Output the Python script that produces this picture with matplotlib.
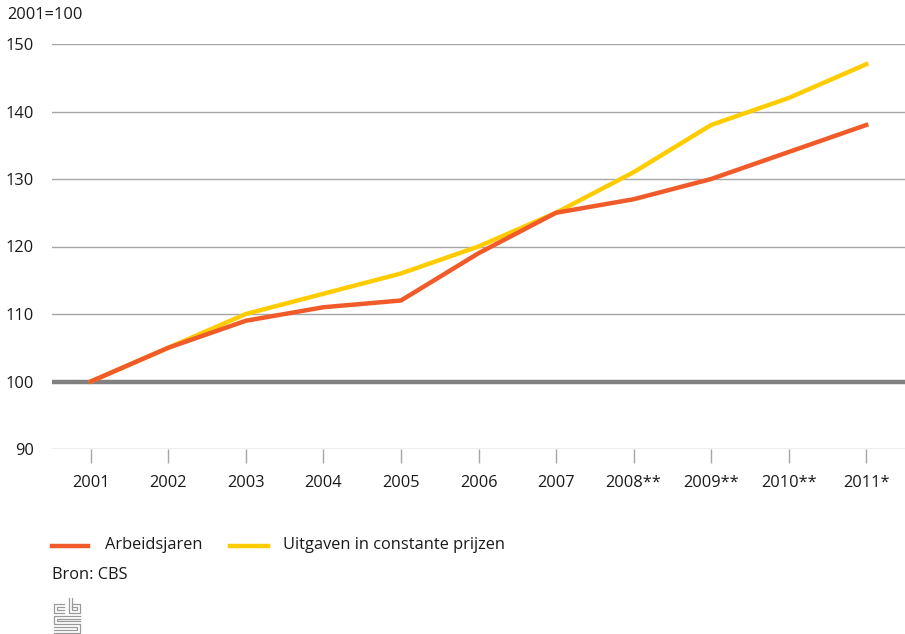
import matplotlib
matplotlib.use("Agg")
import matplotlib.pyplot as plt
from matplotlib.lines import Line2D

years = ["2001", "2002", "2003", "2004", "2005", "2006", "2007",
         "2008**", "2009**", "2010**", "2011*"]
arbeidsjaren = [100, 105, 109, 111, 112, 119, 125, 127, 130, 134, 138]
uitgaven = [100, 105, 110, 113, 116, 120, 125, 131, 138, 142, 147]
y_ticks = [90, 100, 110, 120, 130, 140, 150]

ORANGE = "#f15a29"
YELLOW = "#ffcc00"
GRID = "#a6a6a6"
TEXT = "#1a1a1a"
FS = 11.8

plt.rcParams["font.family"] = ["Open Sans", "DejaVu Sans"]

W, H = 905, 634
fig = plt.figure(figsize=(W / 100, H / 100), dpi=100)
ax = fig.add_axes([52 / W, 1 - 449 / H, (905 - 52) / W, (449 - 44) / H])

x = list(range(len(years)))
ax.set_xlim(-0.5, len(years) - 0.5)
ax.set_ylim(90, 150)

for v in y_ticks:
    if v == 100:
        ax.axhline(v, color="#808080", lw=3.2, zorder=1)
    else:
        ax.axhline(v, color=GRID, lw=1.0, zorder=1)

ax.plot(x, uitgaven, color=YELLOW, lw=3.2, zorder=3, solid_joinstyle="round")
ax.plot(x, arbeidsjaren, color=ORANGE, lw=3.2, zorder=4, solid_joinstyle="round")

for s in ax.spines.values():
    s.set_visible(False)

ax.set_yticks(y_ticks)
ax.set_yticklabels([str(v) for v in y_ticks], fontsize=FS, color=TEXT)
ax.tick_params(axis="y", length=0, pad=13)
ax.set_xticks(x)
ax.set_xticklabels(years, fontsize=FS, color=TEXT)
ax.tick_params(axis="x", direction="out", length=10, width=1, color=GRID, pad=9)

fig.text(7 / W, 1 - 15 / H, "2001=100", fontsize=FS, color=TEXT, va="center", ha="left")

# legend
fig.add_artist(Line2D([52 / W, 88 / W], [1 - 546 / H] * 2, color=ORANGE, lw=3.2))
fig.text(105 / W, 1 - 545 / H, "Arbeidsjaren", fontsize=FS, color=TEXT, va="center")
fig.add_artist(Line2D([230 / W, 268 / W], [1 - 546 / H] * 2, color=YELLOW, lw=3.2))
fig.text(283 / W, 1 - 545 / H, "Uitgaven in constante prijzen", fontsize=FS, color=TEXT, va="center")
fig.text(52 / W, 1 - 575 / H, "Bron: CBS", fontsize=FS, color=TEXT, va="center")

# small cbs mark
logo = fig.add_axes([52 / W, 1 - 634 / H, 30 / W, 38 / H])
logo.set_xlim(0, 30)
logo.set_ylim(0, 38)
logo.axis("off")
lc = "#9a9a9a"
segs = [
    # c
    [(12, 30), (2, 30), (2, 21), (12, 21)],
    [(12, 27), (5, 27), (5, 24), (12, 24)],
    # b
    [(17, 36), (17, 21), (28, 21), (28, 30), (20, 30)],
    [(20, 36), (20, 24), (25, 24), (25, 27), (20, 27)],
    # s
    [(28, 18), (2, 18), (2, 10), (28, 10), (28, 1), (2, 1)],
    [(28, 15), (5, 15), (5, 13), (28, 13)],
    [(2, 7), (25, 7), (25, 4), (2, 4)],
]
for seg in segs:
    xs, ys = zip(*seg)
    logo.plot(xs, ys, color=lc, lw=0.9)

fig.savefig("out.png", dpi=100)
